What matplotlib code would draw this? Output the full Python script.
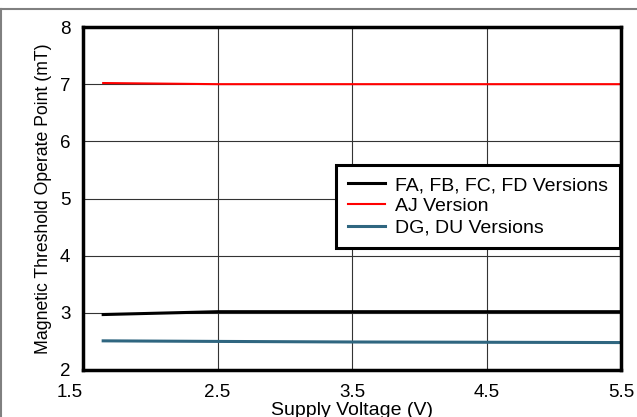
import matplotlib.pyplot as plt
from matplotlib.lines import Line2D

plt.rcParams['font.family'] = ['Liberation Sans', 'DejaVu Sans']

# Data
voltage = [1.65, 2.5, 3.5, 4.5, 5.5]
fa_fd = [2.97, 3.02, 3.02, 3.02, 3.02]
aj = [7.02, 7.0, 7.0, 7.0, 7.0]
dg_du = [2.51, 2.50, 2.49, 2.485, 2.48]

xticks = [1.5, 2.5, 3.5, 4.5, 5.5]
yticks = [2, 3, 4, 5, 6, 7, 8]

fig = plt.figure(figsize=(6.37, 4.17), dpi=100)
ax = fig.add_axes([83 / 637, 1 - 370 / 417, (621 - 83) / 637, (370 - 27) / 417])

ax.plot(voltage, fa_fd, color='black', linewidth=2.2, label='FA, FB, FC, FD Versions')
ax.plot(voltage, aj, color='#ff0000', linewidth=1.5, label='AJ Version')
ax.plot(voltage, dg_du, color='#2f6680', linewidth=2.2, label='DG, DU Versions')

ax.set_xlim(1.5, 5.5)
ax.set_ylim(2, 8)
ax.set_xticks(xticks)
ax.set_yticks(yticks)
ax.set_xticklabels([str(v) for v in xticks])
ax.get_xticklabels()[0].set_ha('right')
ax.tick_params(length=0, labelsize=13.5)
ax.tick_params(axis='x', pad=10)
ax.tick_params(axis='y', pad=9)
ax.grid(True, color='#333333', linewidth=0.8)
for s in ax.spines.values():
    s.set_linewidth(2.5)

ax.set_xlabel('Supply Voltage (V)', fontsize=14, labelpad=1)
ax.set_ylabel('Magnetic Threshold Operate Point (mT)', fontsize=12.7, labelpad=6)

leg = ax.legend(loc='upper left', bbox_to_anchor=(0.470, 0.598), borderaxespad=0,
                fontsize=14, frameon=True, fancybox=False, edgecolor='black',
                framealpha=1, handlelength=1.95, borderpad=0.6, labelspacing=0.18,
                handletextpad=0.5)
leg.get_frame().set_linewidth(2.2)

# Outer frame lines
fig.add_artist(Line2D([0, 1], [1 - 9 / 417, 1 - 9 / 417], color='#808080', linewidth=1.5))
fig.add_artist(Line2D([0.001, 0.001], [0, 1 - 9 / 417], color='#808080', linewidth=1.5))

plt.savefig('out.png', dpi=100)
